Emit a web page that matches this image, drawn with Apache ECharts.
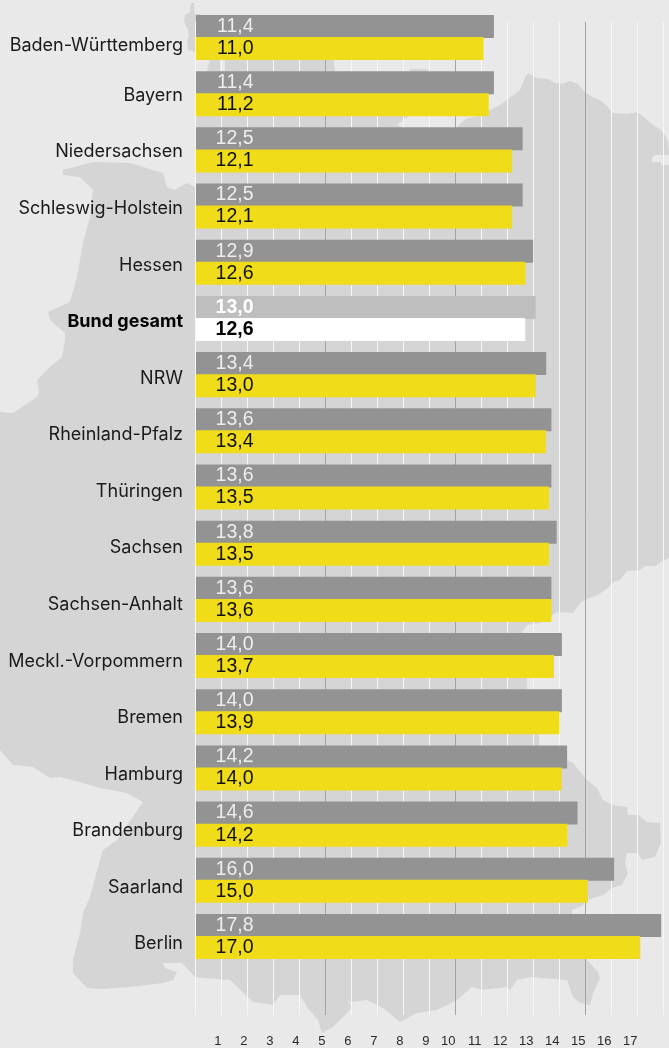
<!DOCTYPE html>
<html>
<head>
<meta charset="utf-8">
<style>
html,body{margin:0;padding:0;background:#e9e9e9}
#chart{width:669px;height:1048px}
</style>
<script src="https://cdn.jsdelivr.net/npm/echarts@6/dist/echarts.min.js"></script>
</head>
<body>
<div id="chart"></div>
<script>
var laender=["Baden-Württemberg","Bayern","Niedersachsen","Schleswig-Holstein","Hessen","Bund gesamt","NRW","Rheinland-Pfalz","Thüringen","Sachsen","Sachsen-Anhalt","Meckl.-Vorpommern","Bremen","Hamburg","Brandenburg","Saarland","Berlin"]
var grauWerte=[11.4,11.4,12.5,12.5,12.9,13.0,13.4,13.6,13.6,13.8,13.6,14.0,14.0,14.2,14.6,16.0,17.8]
var gelbWerte=[11.0,11.2,12.1,12.1,12.6,12.6,13.0,13.4,13.5,13.5,13.6,13.7,13.9,14.0,14.2,15.0,17.0]
var tickLabels=[1,2,3,4,5,6,7,8,9,10,11,12,13,14,15,16,17]

// Deutschlandkarte im Hintergrund, nur Deko (Pixel)
var karte=[[195,187],[196,120],[200,100],[211,55],[220,55],[220,71],[225,71],[225,55],[333,55],[335,71],[360,90],[410,72],[410,69],[428,69],[430,80],[415,112],[408,116],[397,125],[430,140],[457,127],[467,118],[482,116],[490,110],[500,105],[520,90],[525,78],[528,73],[537,78],[548,79],[555,83],[562,84],[570,81],[578,84],[585,92],[592,97],[600,100],[607,106],[613,113],[628,114],[637,112],[645,118],[653,125],[660,129],[665,135],[668,142],[669,155],[655,155],[652,158],[652,162],[661,162],[661,165],[669,165],[669,558],[661,562],[655,566],[645,566],[640,570],[627,571],[620,580],[615,581],[605,590],[597,595],[585,600],[580,603],[573,613],[557,612],[540,623],[527,625],[522,632],[525,660],[527,678],[527,689],[532,710],[539,735],[539,745],[552,752],[573,763],[587,780],[597,788],[603,800],[612,805],[627,807],[628,815],[638,815],[647,822],[660,823],[661,843],[655,857],[642,860],[638,853],[627,853],[625,863],[628,873],[622,885],[612,888],[603,895],[587,900],[582,906],[572,910],[572,914],[580,940],[587,960],[598,972],[600,978],[593,993],[590,1005],[580,1003],[573,997],[567,980],[530,977],[517,980],[510,990],[507,987],[482,990],[472,987],[457,1000],[437,1010],[417,1013],[400,1022],[383,1008],[367,1000],[350,1002],[347,1000],[352,1007],[347,1013],[333,1027],[322,1033],[318,1020],[307,1007],[300,995],[280,995],[273,1005],[253,1002],[230,980],[202,978],[195,977],[182,963],[163,963],[165,968],[177,972],[173,980],[163,983],[130,987],[100,989],[87,988],[73,973],[73,960],[80,933],[83,913],[90,897],[98,867],[103,850],[117,840],[143,802],[127,793],[100,788],[72,780],[60,777],[50,778],[33,767],[13,765],[0,750],[0,412],[13,413],[37,397],[39,392],[37,380],[50,367],[62,357],[65,340],[65,333],[50,320],[48,312],[70,302],[77,277],[83,243],[90,217],[93,190],[80,177],[63,175],[63,170],[93,162],[130,163],[163,173],[167,187],[175,190],[187,183]]
var sylt=[[191,3],[194,3],[195,14],[200,14],[200,60],[196,52],[188,50],[187,40],[189,36],[188,30],[184,22],[185,15],[190,12]]

var BUND=laender.indexOf("Bund gesamt")
var schrift="Inter, 'Liberation Sans', sans-serif"
var zahlSchrift="'Liberation Sans', sans-serif"

function komma(p){
  return p.value.toFixed(1).replace('.',',')
}
// jede 5. Linie dunkel, die 0 bleibt weiss
var linienFarben=[]
for(var i=0;i<=18;i++){
  linienFarben.push(i>0&&i%5==0?'#a3a3a3':'#f7f7f7')
}
function balken(name,werte,farbe,bundFarbe,textFarbe){
  return {
    name:name,
    type:'bar',
    xAxisIndex:0,
    yAxisIndex:0,
    barWidth:23,
    barGap:'-4.3%',
    z:5,
    data:werte.map(function(v,i){
      return i==BUND?{value:v,itemStyle:{color:bundFarbe},label:{fontWeight:'bold',color:textFarbe=='#111'?'#000':'#fff'}}:v
    }),
    itemStyle:{color:farbe},
    label:{
      show:true,
      position:[57.5,'50%'],
      align:'right',
      verticalAlign:'middle',
      formatter:komma,
      fontFamily:zahlSchrift,
      fontSize:19.5,
      color:textFarbe
    }
  }
}

var chart=echarts.init(document.getElementById('chart'),null,{renderer:'canvas'})
chart.setOption({
  animation:false,
  backgroundColor:'#e9e9e9',
  graphic:{elements:[
    {type:'polygon',z:-1,silent:true,shape:{points:karte},style:{fill:'#d5d5d5'}},
    {type:'polygon',z:-1,silent:true,shape:{points:sylt},style:{fill:'#d5d5d5'}}
  ]},
  grid:[
    {left:196,top:9.4,width:470.4,height:955.2},
    {left:195.5,top:22,width:468,height:996},
    {left:196,top:10.6,width:470,height:961.7}
  ],
  xAxis:[
    {gridIndex:0,type:'value',min:0,max:18,show:false,splitLine:{show:false}},
    {
      gridIndex:1,type:'value',min:0,max:18,interval:1,position:'bottom',
      axisLine:{show:false},axisTick:{show:false},
      splitLine:{show:true,lineStyle:{color:linienFarben,width:1}},
      axisLabel:{
        show:true,margin:20,align:'right',fontFamily:zahlSchrift,fontSize:13,color:'#2a2a2a',
        showMinLabel:false,showMaxLabel:false,hideOverlap:false,
        formatter:function(v){return tickLabels.indexOf(v)>=0?String(v):''}
      }
    },
    {gridIndex:2,type:'value',min:0,max:18,show:false,splitLine:{show:false}}
  ],
  yAxis:[
    {gridIndex:0,type:'category',inverse:true,data:laender,show:false},
    {gridIndex:1,type:'value',min:0,max:1,show:false,splitLine:{show:false}},
    {
      gridIndex:2,type:'category',inverse:true,
      data:laender.map(function(n,i){
        return i==BUND?{value:n,textStyle:{fontWeight:'bold',color:'#000'}}:n
      }),
      axisLine:{show:false},axisTick:{show:false},
      axisLabel:{
        show:true,interval:0,margin:13,fontFamily:schrift,fontSize:18,color:'#1a1a1a',
        // der erste Name sitzt im Original etwas tiefer
        formatter:function(v,i){return i==0?'{tief|'+v+'}':v},
        rich:{tief:{padding:[13,0,0,0],fontFamily:schrift,fontSize:18,color:'#1a1a1a'}}
      }
    }
  ],
  series:[
    balken('grau',grauWerte,'#939393','#bebebe','#eeeeee'),
    balken('gelb',gelbWerte,'#f0dc18','#ffffff','#111')
  ]
})
</script>
</body>
</html>
